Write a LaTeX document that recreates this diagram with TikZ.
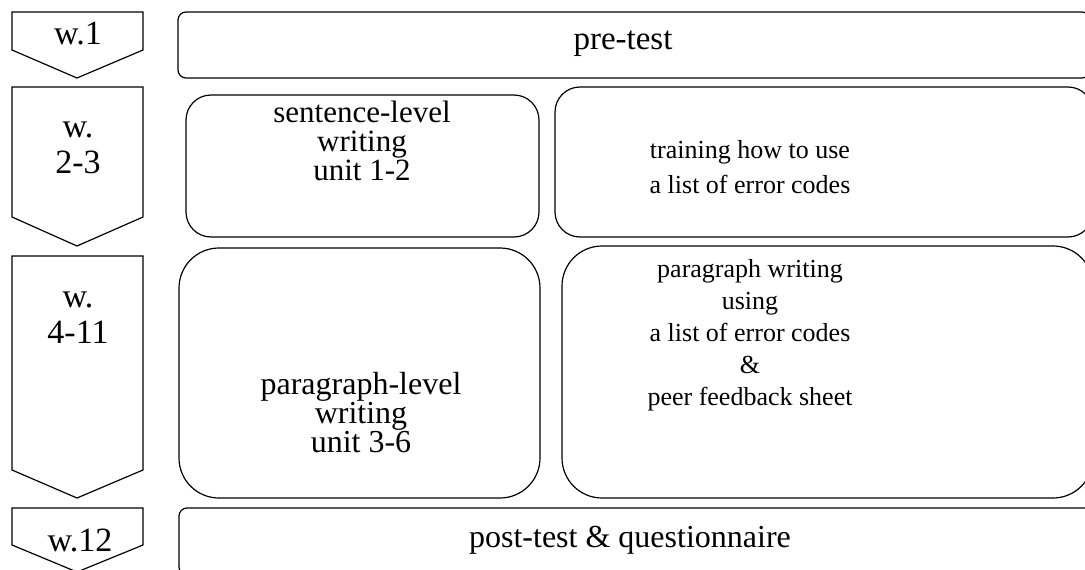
\documentclass[tikz,border=0pt]{standalone}
\usepackage{fontspec}
\setmainfont{Liberation Serif}
\begin{document}
\begin{tikzpicture}[x=1pt,y=-1pt,
  line width=1.2pt,
  chev/.style={draw=black, line join=miter},
  lbl/.style={font=\fontsize{34}{36}\selectfont, align=center, inner sep=0pt},
  rbox/.style={draw=black},
  txt/.style={inner sep=0pt, align=center},
]
\useasboundingbox (0,0) rectangle (1085,570);
\fill[white] (0,0) rectangle (1085,570);
% chevrons
\draw[chev] (12,12) -- (143,12) -- (143,50) -- (77,78) -- (12,50) -- cycle;
\draw[chev] (12,87) -- (143,87) -- (143,217) -- (77,246) -- (12,217) -- cycle;
\draw[chev] (12,256) -- (143,256) -- (143,470) -- (77,498) -- (12,470) -- cycle;
\draw[chev] (12,508) -- (143,508) -- (143,545) -- (77,572) -- (12,545) -- cycle;
\node[lbl] (w1) at (78,34) {w.1};
\node[lbl] (w2) at (78,148) {w.\\2-3};
\node[lbl] (w3) at (78,318) {w.\\4-11};
\node[lbl] (w4) at (80,540) {w.12};
% row 1
\draw[rbox, rounded corners=8pt] (178,12) rectangle (1090,78);
\node[txt, font=\fontsize{33}{33}\selectfont] (pre) at (623,44) {pre-test};
% row 2
\draw[rbox, rounded corners=25pt] (186,95) rectangle (539,237);
\node[txt, font=\fontsize{31}{29}\selectfont] (s1) at (362,141) {sentence-level\\writing\\unit 1-2};
\draw[rbox, rounded corners=25pt] (555,87) rectangle (1093,237);
\node[txt, font=\fontsize{26}{35}\selectfont] (t1) at (750,167) {training how to use\\a list of error codes};
% row 3
\draw[rbox, rounded corners=40pt] (179,248) rectangle (540,498);
\node[txt, font=\fontsize{32}{29}\selectfont] (p1) at (361,413) {paragraph-level\\writing\\unit 3-6};
\draw[rbox, rounded corners=40pt] (562,246) rectangle (1093,498);
\node[txt, font=\fontsize{26}{32}\selectfont] (p2) at (750,335) {paragraph writing\\using\\a list of error codes\\\&\\peer feedback sheet};
% row 4
\draw[rbox, rounded corners=8pt] (179,508) rectangle (1093,575);
\node[txt, font=\fontsize{32}{32}\selectfont] (post) at (630,540) {post-test \& questionnaire};
\end{tikzpicture}
\end{document}
